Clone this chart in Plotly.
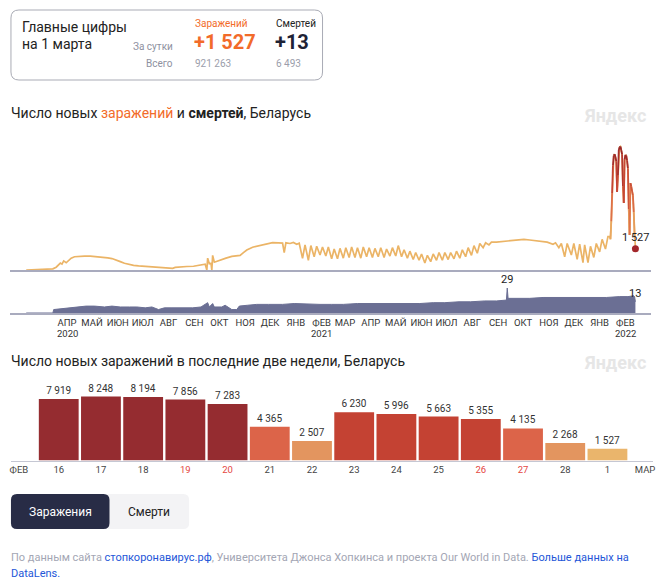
import plotly.graph_objects as go
import pandas as pd

W, H = 663, 586

# ---------------- DATA ----------------
summary_date = "на 1 марта"
day_cases = "+1 527"
day_deaths = "+13"
total_cases = "921 263"
total_deaths = "6 493"

case_points = [
    ("2020-02-28", 1), ("2020-03-10", 10), ("2020-03-20", 40), ("2020-03-31", 80),
    ("2020-04-04", 200), ("2020-04-09", 500), ("2020-04-11", 420), ("2020-04-13", 650),
    ("2020-04-16", 520), ("2020-04-19", 700), ("2020-04-22", 850), ("2020-04-26", 950),
    ("2020-05-01", 980), ("2020-05-08", 1000), ("2020-05-15", 990), ("2020-05-22", 960),
    ("2020-05-29", 930), ("2020-06-05", 870), ("2020-06-10", 820), ("2020-06-15", 730),
    ("2020-06-20", 600), ("2020-06-25", 480), ("2020-06-30", 400), ("2020-07-06", 330),
    ("2020-07-12", 290), ("2020-07-19", 260), ("2020-07-26", 240), ("2020-08-02", 200),
    ("2020-08-09", 180), ("2020-08-15", 150), ("2020-08-18", 170), ("2020-08-22", 120),
    ("2020-08-25", 190), ("2020-08-31", 230), ("2020-09-08", 250), ("2020-09-16", 270),
    ("2020-09-24", 330), ("2020-09-30", 420), ("2020-10-02", 0), ("2020-10-03", 850),
    ("2020-10-05", 450), ("2020-10-07", 480), ("2020-10-08", 0), ("2020-10-09", 1050),
    ("2020-10-11", 560), ("2020-10-18", 720), ("2020-10-25", 850), ("2020-11-01", 980),
    ("2020-11-07", 1000), ("2020-11-11", 1050), ("2020-11-15", 1250), ("2020-11-19", 1430),
    ("2020-11-26", 1630), ("2020-12-01", 1700), ("2020-12-08", 1840), ("2020-12-14", 1900),
    ("2020-12-20", 1960), ("2020-12-27", 1950), ("2021-01-01", 1930), ("2021-01-03", 1240),
    ("2021-01-05", 1950), ("2021-01-10", 1900), ("2021-01-14", 1980), ("2021-01-18", 1850),
    ("2021-01-21", 1920), ("2021-01-25", 840), ("2021-01-28", 1800), ("2021-02-01", 700),
    ("2021-02-04", 1750), ("2021-02-08", 950), ("2021-02-11", 1700), ("2021-02-15", 1075),
    ("2021-02-18", 1650), ("2021-02-22", 1000), ("2021-02-25", 1650), ("2021-03-01", 800),
    ("2021-03-04", 1500), ("2021-03-08", 800), ("2021-03-11", 1550), ("2021-03-15", 850),
    ("2021-03-18", 1600), ("2021-03-22", 900), ("2021-03-25", 1650), ("2021-03-29", 900),
    ("2021-04-01", 1600), ("2021-04-05", 850), ("2021-04-08", 1650), ("2021-04-12", 950),
    ("2021-04-15", 1600), ("2021-04-19", 900), ("2021-04-22", 1550), ("2021-04-26", 950),
    ("2021-04-29", 1600), ("2021-05-03", 900), ("2021-05-06", 1500), ("2021-05-10", 1000),
    ("2021-05-13", 1600), ("2021-05-17", 1000), ("2021-05-20", 1750), ("2021-05-24", 950),
    ("2021-05-27", 1450), ("2021-05-31", 850), ("2021-06-03", 1350), ("2021-06-07", 750),
    ("2021-06-10", 1250), ("2021-06-14", 700), ("2021-06-17", 1150), ("2021-06-21", 500),
    ("2021-06-24", 1050), ("2021-06-28", 600), ("2021-07-01", 1150), ("2021-07-05", 700),
    ("2021-07-08", 1250), ("2021-07-12", 700), ("2021-07-15", 1250), ("2021-07-19", 750),
    ("2021-07-22", 1250), ("2021-07-26", 800), ("2021-07-29", 1350), ("2021-08-02", 850),
    ("2021-08-05", 1450), ("2021-08-09", 950), ("2021-08-12", 1600), ("2021-08-16", 1050),
    ("2021-08-19", 1750), ("2021-08-23", 1200), ("2021-08-26", 1900), ("2021-08-30", 1600),
    ("2021-09-02", 1950), ("2021-09-06", 1800), ("2021-09-09", 2000), ("2021-09-15", 2000),
    ("2021-09-25", 2050), ("2021-10-05", 2100), ("2021-10-12", 2150), ("2021-10-18", 2200),
    ("2021-10-25", 2150), ("2021-11-01", 2100), ("2021-11-08", 2050), ("2021-11-15", 2000),
    ("2021-11-22", 1850), ("2021-11-25", 1950), ("2021-11-29", 1600), ("2021-12-02", 1900),
    ("2021-12-06", 950), ("2021-12-09", 1900), ("2021-12-14", 1075), ("2021-12-17", 1900),
    ("2021-12-21", 765), ("2021-12-24", 1850), ("2021-12-28", 526), ("2021-12-30", 1800),
    ("2022-01-03", 526), ("2022-01-06", 1700), ("2022-01-10", 900), ("2022-01-13", 1900),
    ("2022-01-17", 1300), ("2022-01-20", 2200), ("2022-01-24", 1500), ("2022-01-27", 2400),
    ("2022-01-29", 2400), ("2022-01-30", 2200), ("2022-01-31", 3500), ("2022-02-01", 5500),
    ("2022-02-02", 7500), ("2022-02-03", 8200), ("2022-02-04", 8300), ("2022-02-05", 8100),
    ("2022-02-06", 7800), ("2022-02-07", 5600), ("2022-02-08", 6800), ("2022-02-09", 8600),
    ("2022-02-10", 8800), ("2022-02-11", 8850), ("2022-02-12", 8600), ("2022-02-13", 8300),
    ("2022-02-14", 6000), ("2022-02-15", 4800), ("2022-02-16", 7919), ("2022-02-17", 8248),
    ("2022-02-18", 8194), ("2022-02-19", 7856), ("2022-02-20", 7283), ("2022-02-21", 4365),
    ("2022-02-22", 2507), ("2022-02-23", 6230), ("2022-02-24", 5996), ("2022-02-25", 5663),
    ("2022-02-26", 5355), ("2022-02-27", 4135), ("2022-02-28", 2268), ("2022-03-01", 1527),
]
case_dates = [d for d, v in case_points]
case_values = [v for d, v in case_points]

death_points = [
    ("2020-02-28", 0), ("2020-03-31", 0), ("2020-04-01", 4), ("2020-04-10", 5),
    ("2020-04-20", 6), ("2020-05-01", 7), ("2020-05-10", 8), ("2020-05-20", 8),
    ("2020-06-01", 7), ("2020-06-10", 8), ("2020-06-20", 7), ("2020-07-01", 7),
    ("2020-07-10", 7), ("2020-07-20", 6), ("2020-07-28", 7), ("2020-08-05", 4),
    ("2020-08-12", 6), ("2020-08-20", 6), ("2020-09-01", 6), ("2020-09-15", 6),
    ("2020-09-25", 7), ("2020-10-03", 12), ("2020-10-05", 7), ("2020-10-09", 11),
    ("2020-10-11", 7), ("2020-10-20", 7), ("2020-10-24", 9), ("2020-10-27", 7),
    ("2020-11-01", 4), ("2020-11-07", 4), ("2020-11-10", 8), ("2020-11-20", 9),
    ("2020-12-01", 10), ("2020-12-15", 10), ("2021-01-01", 10), ("2021-01-15", 11),
    ("2021-02-01", 10), ("2021-02-15", 10), ("2021-03-01", 10), ("2021-03-15", 10),
    ("2021-04-01", 11), ("2021-04-15", 11), ("2021-05-01", 11), ("2021-05-15", 11),
    ("2021-06-01", 11), ("2021-06-15", 11), ("2021-07-01", 12), ("2021-07-15", 12),
    ("2021-08-01", 13), ("2021-08-15", 13), ("2021-09-01", 14), ("2021-09-15", 14),
    ("2021-09-27", 15), ("2021-09-28", 29), ("2021-09-29", 17), ("2021-10-10", 17),
    ("2021-10-25", 17), ("2021-11-10", 18), ("2021-11-25", 18), ("2021-12-10", 18),
    ("2021-12-25", 18), ("2022-01-10", 18), ("2022-01-25", 18), ("2022-02-10", 19),
    ("2022-02-20", 19), ("2022-02-27", 20), ("2022-02-28", 19), ("2022-03-01", 13),
]
death_dates = [d for d, v in death_points]
death_values = [v for d, v in death_points]

month_labels = ["АПР", "МАЙ", "ИЮН", "ИЮЛ", "АВГ", "СЕН", "ОКТ", "НОЯ", "ДЕК", "ЯНВ",
                "ФЕВ", "МАР", "АПР", "МАЙ", "ИЮН", "ИЮЛ", "АВГ", "СЕН", "ОКТ", "НОЯ",
                "ДЕК", "ЯНВ", "ФЕВ"]
year_labels = [("2020-04", "2020"), ("2021-02", "2021"), ("2022-02", "2022")]

bar_days = ["16", "17", "18", "19", "20", "21", "22", "23", "24", "25", "26", "27", "28", "1"]
bar_values = [7919, 8248, 8194, 7856, 7283, 4365, 2507, 6230, 5996, 5663, 5355, 4135, 2268, 1527]
weekend_days = ["19", "20", "26", "27"]
bar_start_month = "ФЕВ"
bar_end_month = "МАР"

# ---------------- HELPERS ----------------
def px(x):
    return x / W

def py(y):
    return 1 - y / H

FONT = "Roboto, 'Open Sans', sans-serif"

def lerp_color(v, stops):
    if v <= stops[0][0]:
        c = stops[0][1]
        return f"rgb({c[0]},{c[1]},{c[2]})"
    for (v0, c0), (v1, c1) in zip(stops[:-1], stops[1:]):
        if v <= v1:
            t = (v - v0) / (v1 - v0)
            c = [round(a + (b - a) * t) for a, b in zip(c0, c1)]
            return f"rgb({c[0]},{c[1]},{c[2]})"
    c = stops[-1][1]
    return f"rgb({c[0]},{c[1]},{c[2]})"

line_stops = [(2500, (235, 180, 102)), (4500, (222, 112, 72)), (6500, (196, 68, 52)),
              (8000, (160, 40, 42)), (9000, (150, 36, 40))]

def bar_color(v):
    if v < 2000:
        return "#eab56c"
    if v < 3000:
        return "#e3955f"
    if v < 5000:
        return "#dc6449"
    if v < 7000:
        return "#c44233"
    return "#952c30"

def rrect(x0, y0, x1, y1, r):
    rx, ry = r, r
    return (f"M {px(x0+rx)},{py(y0)} L {px(x1-rx)},{py(y0)} Q {px(x1)},{py(y0)} {px(x1)},{py(y0+ry)} "
            f"L {px(x1)},{py(y1-ry)} Q {px(x1)},{py(y1)} {px(x1-rx)},{py(y1)} "
            f"L {px(x0+rx)},{py(y1)} Q {px(x0)},{py(y1)} {px(x0)},{py(y1-ry)} "
            f"L {px(x0)},{py(y0+ry)} Q {px(x0)},{py(y0)} {px(x0+rx)},{py(y0)} Z")

# ---------------- FIGURE ----------------
fig = go.Figure()

# cases line (base colour)
fig.add_trace(go.Scatter(x=case_dates, y=case_values, mode="lines",
                         line=dict(color="#ebb466", width=1.7), xaxis="x", yaxis="y",
                         hoverinfo="skip", showlegend=False))
# high-value segments coloured by value
for i in range(len(case_values) - 1):
    v0, v1 = case_values[i], case_values[i + 1]
    if max(v0, v1) > 2500:
        fig.add_trace(go.Scatter(x=case_dates[i:i + 2], y=case_values[i:i + 2], mode="lines",
                                 line=dict(color=lerp_color((v0 + v1) / 2, line_stops), width=1.8),
                                 xaxis="x", yaxis="y", hoverinfo="skip", showlegend=False))
# last point marker
fig.add_trace(go.Scatter(x=[case_dates[-1]], y=[case_values[-1]], mode="markers",
                         marker=dict(color="#a3262a", size=7), xaxis="x", yaxis="y",
                         hoverinfo="skip", showlegend=False))

# deaths area
fig.add_trace(go.Scatter(x=death_dates, y=death_values, mode="lines", fill="tozeroy",
                         line=dict(color="#6b6f94", width=1), fillcolor="#6b6f94",
                         xaxis="x2", yaxis="y2", hoverinfo="skip", showlegend=False))

# bars
fig.add_trace(go.Bar(x=list(range(len(bar_values))), y=bar_values,
                     marker=dict(color=[bar_color(v) for v in bar_values], line=dict(width=0)),
                     width=40 / 42.4,
                     text=[f"{v:,}".replace(",", " ") for v in bar_values],
                     textposition="outside", cliponaxis=False,
                     textfont=dict(size=10, color="#333333", family=FONT),
                     xaxis="x3", yaxis="y3", hoverinfo="skip", showlegend=False))

# axis geometry
last_day = pd.Timestamp(case_dates[-1])
ppd = 0.836
x_end_px = 637.3
t_left = last_day - pd.Timedelta(days=(x_end_px - 9) / ppd)
t_right = last_day + pd.Timedelta(days=(653 - x_end_px) / ppd)

month_ticks = [(pd.Timestamp("2020-04-01") + pd.DateOffset(months=i) + pd.Timedelta(days=16))
               for i in range(len(month_labels))]

cases_max = 130 * 71.7
deaths_max = 30 / 0.862
bars_max = 80.5 * 128.9

bar_tickvals = [(18 - 58) / 42.4] + list(range(len(bar_days))) + [(647 - 58) / 42.4]
bar_ticktext = ([bar_start_month] +
                [f"<span style='color:#e5473f'>{d}</span>" if d in weekend_days else d for d in bar_days] +
                [bar_end_month])

axis_common = dict(showgrid=False, zeroline=False, fixedrange=True)

fig.update_layout(
    width=W, height=H, margin=dict(l=0, r=0, t=0, b=0),
    paper_bgcolor="white", plot_bgcolor="rgba(0,0,0,0)",
    font=dict(family=FONT, color="#222222"),
    showlegend=False,
    xaxis=dict(domain=[px(9), px(653)], range=[t_left, t_right], type="date", anchor="y",
               showticklabels=False, showline=True, linecolor="#a9abbe", linewidth=1.5,
               ticks="", **axis_common),
    yaxis=dict(domain=[py(270), py(140)], range=[0, cases_max], anchor="x",
               showticklabels=False, showline=False, **axis_common),
    xaxis2=dict(domain=[px(9), px(653)], range=[t_left, t_right], type="date", anchor="y2",
                showline=True, linecolor="#a9abbe", linewidth=1.5, ticks="", tickangle=0,
                tickvals=month_ticks, ticktext=month_labels,
                tickfont=dict(size=9.5, color="#333333", family=FONT), **axis_common),
    yaxis2=dict(domain=[py(313), py(283)], range=[0, deaths_max], anchor="x2",
                showticklabels=False, showline=False, **axis_common),
    xaxis3=dict(domain=[px(10), px(655)], range=[(10 - 58) / 42.4, (655 - 58) / 42.4],
                anchor="y3", showline=True, linecolor="#c5c7d3", linewidth=1, ticks="", tickangle=0,
                tickvals=bar_tickvals, ticktext=bar_ticktext,
                tickfont=dict(size=9.5, color="#444444", family=FONT), **axis_common),
    yaxis3=dict(domain=[py(460.5), py(380)], range=[0, bars_max], anchor="x3",
                showticklabels=False, showline=False, **axis_common),
)

shapes = []
# summary card
shapes.append(dict(type="path", xref="paper", yref="paper", path=rrect(10, 10, 323, 80, 8),
                   line=dict(color="#a9abb5", width=1), fillcolor="rgba(0,0,0,0)", layer="below"))
# toggle buttons
shapes.append(dict(type="path", xref="paper", yref="paper", path=rrect(10, 494, 189, 529, 6),
                   line=dict(width=0), fillcolor="#f3f3f5", layer="below"))
shapes.append(dict(type="path", xref="paper", yref="paper", path=rrect(10, 494, 109, 529, 6),
                   line=dict(width=0), fillcolor="#282c46", layer="below"))
fig.update_layout(shapes=shapes)

anns = []

def ann(text, x, y, size, color="#222222", xanchor="left", yanchor="middle", **kw):
    anns.append(dict(text=text, x=px(x), y=py(y), xref="paper", yref="paper",
                     xanchor=xanchor, yanchor=yanchor, showarrow=False,
                     font=dict(size=size, color=color, family=FONT), align="left", **kw))

# card text
ann("Главные цифры", 19, 27, 14, "#222222")
ann(summary_date, 19, 44, 14, "#222222")
ann("Заражений", 193, 23, 10, "#f26b2a")
ann("Смертей", 274, 23, 10, "#222222")
ann("За сутки", 175, 46, 10, "#8e919f", xanchor="right")
ann("Всего", 175, 64, 10, "#8e919f", xanchor="right")
ann(f"<b>{day_cases}</b>", 192, 42, 20, "#f26b2a")
ann(f"<b>{day_deaths}</b>", 273, 42, 20, "#1e2235")
ann(total_cases, 193, 64, 10, "#9b9eab")
ann(total_deaths, 274, 64, 10, "#9b9eab")

# titles
ann("Число новых <span style='color:#f26b2a'>заражений</span> и <b>смертей</b>, Беларусь",
    8, 113, 14, "#222222")
ann("Число новых заражений в последние две недели, Беларусь", 8, 361, 14, "#222222")
ann("<b>Яндекс</b>", 650, 115, 18, "#e6e6e6", xanchor="right")
ann("<b>Яндекс</b>", 650, 362, 18, "#e6e6e6", xanchor="right")

# line chart value labels
anns.append(dict(text=f"{case_values[-1]:,}".replace(",", " "), x=case_dates[-1], y=case_values[-1],
                 xref="x", yref="y", xanchor="center", yanchor="bottom", yshift=3,
                 showarrow=False, font=dict(size=11, color="#222222", family=FONT)))
max_i = death_values.index(max(death_values))
anns.append(dict(text=str(death_values[max_i]), x=death_dates[max_i], y=death_values[max_i],
                 xref="x2", yref="y2", xanchor="center", yanchor="bottom", yshift=0,
                 showarrow=False, font=dict(size=11, color="#222222", family=FONT)))
anns.append(dict(text=str(death_values[-1]), x=death_dates[-1], y=death_values[-1],
                 xref="x2", yref="y2", xanchor="center", yanchor="bottom", yshift=0,
                 showarrow=False, font=dict(size=11, color="#222222", family=FONT)))
# year labels under month ticks
for m, yr in year_labels:
    tx = pd.Timestamp(m + "-01") + pd.Timedelta(days=16)
    anns.append(dict(text=yr, x=tx, y=py(333), xref="x2", yref="paper", xanchor="center",
                     yanchor="middle", showarrow=False, borderpad=0,
                     font=dict(size=9.5, color="#333333", family=FONT)))

# buttons
ann("Заражения", 59.5, 511.5, 12, "#ffffff", xanchor="center")
ann("Смерти", 149, 511.5, 12, "#222222", xanchor="center")

# footer
gray = "#a3a6b4"
blue = "#2356d8"
ann(f"<span style='color:{gray}'>По данным сайта </span><span style='color:{blue}'>стопкоронавирус.рф</span>"
    f"<span style='color:{gray}'>, Университета Джонса Хопкинса и проекта Our World in Data. </span>"
    f"<span style='color:{blue}'>Больше данных на</span>", 8, 557, 11, gray)
ann(f"<span style='color:{blue}'>DataLens.</span>", 8, 573, 11, blue)

fig.update_layout(annotations=anns)

fig.write_html("out.html", config={"displayModeBar": False, "staticPlot": False},
               post_script="document.body.style.margin='0';document.body.style.padding='0';")
